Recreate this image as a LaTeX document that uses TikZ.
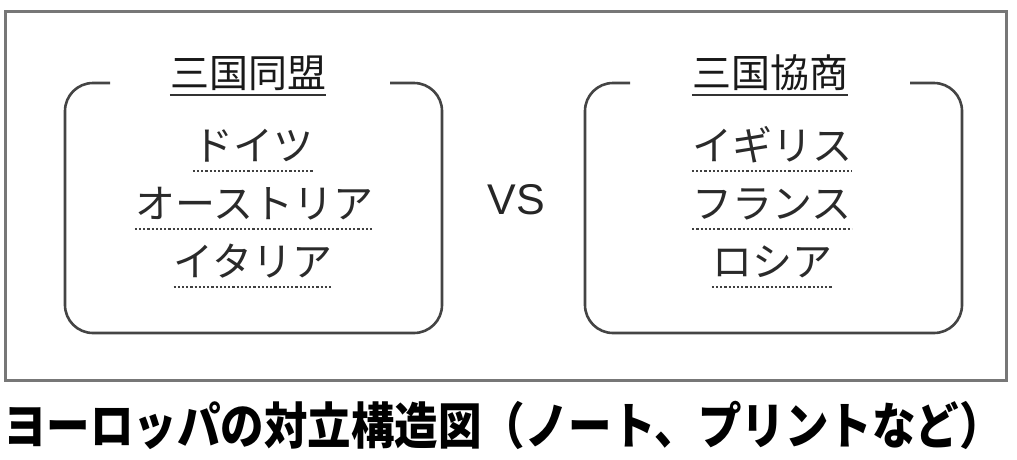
\documentclass[tikz,border=0pt]{standalone}
\usepackage{fontspec}
\usepackage{graphicx}
\newfontfamily\jpfont{Noto Sans CJK JP}
\newfontfamily\vsfont{Liberation Sans}
\usetikzlibrary{calc}
\definecolor{framegray}{HTML}{777777}
\definecolor{boxgray}{HTML}{444444}
\definecolor{textgray}{HTML}{2A2A2A}
\tikzset{
  outerframe/.style={draw=framegray,line width=3pt},
  groupframe/.style={draw=boxgray,line width=2.6pt,rounded corners=28pt},
  grouptitle/.style={font=\jpfont\fontsize{39}{44}\selectfont,text=black!90,inner sep=0pt,anchor=base},
  member/.style={font=\jpfont\fontsize{40}{46}\selectfont,text=textgray,inner sep=0pt,anchor=base},
  dotline/.style={draw=black!75,line width=1.8pt,dash pattern=on 2.2pt off 2pt},
  titleline/.style={draw=black!80,line width=2.2pt},
}
\begin{document}
\begin{tikzpicture}[x=1pt,y=-1pt]
\useasboundingbox (0,0) rectangle (1017,459);
\draw[outerframe] (5,11) rectangle (1006,380);
% left group
\coordinate (L1) at (110,83);
\coordinate (L2) at (390,83);
\draw[groupframe] (L1) -- (65,83) -- (65,333) -- (442,333) -- (442,83) -- (L2);
\node[grouptitle] (t1) at (248,87) {三国同盟};
\draw[titleline] ($(t1.base west)+(0,8)$) -- ($(t1.base east)+(0,8)$);
\node[member] (a1) at (253,160) {ドイツ};
\node[member] (a2) at (254,218) {オーストリア};
\node[member] (a3) at (253,276) {イタリア};
\foreach \n in {a1,a2,a3}{
  \draw[dotline] ($(\n.base west)+(0,11)$) -- ($(\n.base east)+(0,11)$);
}
% VS
\node[font=\vsfont\fontsize{43}{48}\selectfont,text=black!85,inner sep=0pt] (vs) at (516,200) {VS};
% right group
\coordinate (R1) at (630,83);
\coordinate (R2) at (910,83);
\draw[groupframe] (R1) -- (585,83) -- (585,333) -- (962,333) -- (962,83) -- (R2);
\node[grouptitle] (t2) at (770,87) {三国協商};
\draw[titleline] ($(t2.base west)+(0,8)$) -- ($(t2.base east)+(0,8)$);
\node[member] (b1) at (772,160) {イギリス};
\node[member] (b2) at (772,218) {フランス};
\node[member] (b3) at (772,276) {ロシア};
\foreach \n in {b1,b2,b3}{
  \draw[dotline] ($(\n.base west)+(0,11)$) -- ($(\n.base east)+(0,11)$);
}
% caption
\node[inner sep=0pt,anchor=base west,font=\jpfont\bfseries\fontsize{50}{56}\selectfont] (cap) at (3,444) {\scalebox{0.87}[1]{ヨーロッパの対立構造図（ノート、プリントなど）}};
\end{tikzpicture}
\end{document}
